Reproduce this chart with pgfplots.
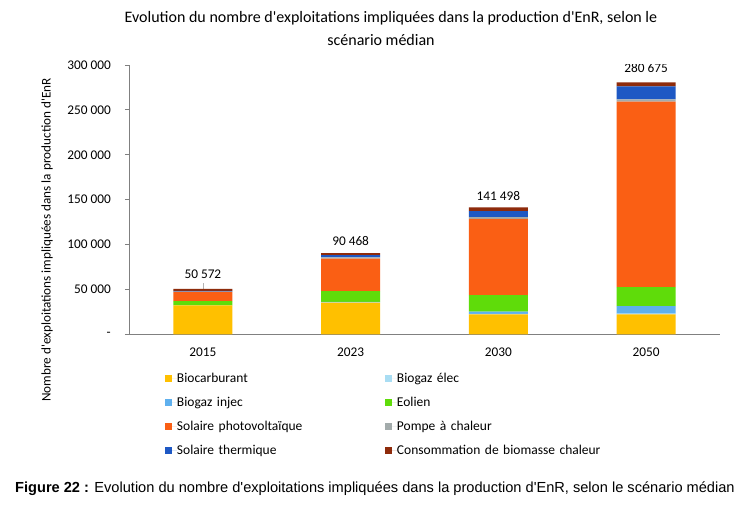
\documentclass[border=0pt]{standalone}
\usepackage{fontspec}
\setmainfont{Carlito}[Ligatures=TeXOff]
\newfontfamily\arialfont{Liberation Sans}[Ligatures=TeXOff]
\usepackage{pgfplots}
\pgfplotsset{compat=1.18}
\definecolor{cBioc}{HTML}{FFC000}
\definecolor{cElec}{HTML}{A9DDF3}
\definecolor{cInjec}{HTML}{5FB0EE}
\definecolor{cEol}{HTML}{5FDC0A}
\definecolor{cPV}{HTML}{FA5F14}
\definecolor{cPAC}{HTML}{A3ABAB}
\definecolor{cTherm}{HTML}{1E58C4}
\definecolor{cBiom}{HTML}{8E2B0B}
\definecolor{cAxis}{HTML}{808080}
\pgfplotsset{mylegend/.style={legend image code/.code={\fill[##1,draw=none] (0pt,-3.5pt) rectangle (7pt,3.5pt); \path (0pt,0pt) -- (12pt,0pt);}}}
\begin{document}
\begin{tikzpicture}[x=1pt,y=1pt]
\useasboundingbox (0,0) rectangle (747,530);
\fill[white] (0,0) rectangle (747,530);
\node[font=\fontsize{16}{18}\selectfont] at (391,512) {Evolution du nombre d'exploitations impliquées dans la production d'EnR, selon le};
\node[font=\fontsize{16}{18}\selectfont] at (381,490) {scénario médian};
\node[rotate=90, font=\fontsize{13.2}{15}\selectfont] at (47,290) {Nombre d'exploitations impliquées dans la production d'EnR};
\node[anchor=west, font=\arialfont\fontsize{14.6}{17}\selectfont, inner sep=0pt] at (15,41) {\textbf{Figure 22 :} Evolution du nombre d'exploitations impliquées dans la production d'EnR, selon le scénario médian};
\begin{axis}[
  at={(129pt,195.7pt)}, anchor=south west,
  scale only axis, width=591pt, height=269.3pt,
  ybar stacked, bar width=59pt,
  xmin=-0.5, xmax=3.5, ymin=0, ymax=300000,
  xtick={0,1,2,3}, xticklabels={2015,2023,2030,2050},
  ytick={0,50000,100000,150000,200000,250000,300000},
  yticklabels={-,50 000,100 000,150 000,200 000,250 000,300 000},
  axis x line*=bottom, axis y line*=left,
  axis line style={draw=cAxis, line width=0.9pt},
  tick align=outside, major tick length=4pt,
  ytick style={draw=cAxis, line width=0.9pt},
  xtick style={draw=none},
  ticklabel style={font=\fontsize{13.3}{15}\selectfont},
  yticklabel style={inner sep=0pt, anchor=east, xshift=-14pt},
  xticklabel style={inner sep=0pt, anchor=north, yshift=-9pt},
  scaled y ticks=false,
  legend columns=2,
  legend style={at={(0.0609,-0.1437)}, anchor=north west, draw=none, fill=none,
    inner sep=0pt, outer sep=0pt, row sep=13pt, column sep=0pt,
    nodes={inner sep=0pt, text height=9pt, text depth=2pt, text width=208pt, align=left, font=\fontsize{13.5}{16}\selectfont}},
]
\addplot[fill=cBioc, draw=none, mylegend] coordinates {(0,32200) (1,35200) (2,22200) (3,22200)};
\addlegendentry{Biocarburant}
\addplot[fill=cElec, draw=none, mylegend] coordinates {(0,0) (1,300) (2,600) (3,800)};
\addlegendentry{Biogaz élec}
\addplot[fill=cInjec, draw=none, mylegend] coordinates {(0,0) (1,500) (2,2400) (3,8400)};
\addlegendentry{Biogaz injec}
\addplot[fill=cEol, draw=none, mylegend] coordinates {(0,4800) (1,12100) (2,18500) (3,21100)};
\addlegendentry{Eolien}
\addplot[fill=cPV, draw=none, mylegend] coordinates {(0,10400) (1,36300) (2,84800) (3,206700)};
\addlegendentry{Solaire photovoltaïque}
\addplot[fill=cPAC, draw=none, mylegend] coordinates {(0,200) (1,1300) (2,1900) (3,2600)};
\addlegendentry{Pompe à chaleur}
\addplot[fill=cTherm, draw=none, mylegend] coordinates {(0,800) (1,2400) (2,6700) (3,14300)};
\addlegendentry{Solaire thermique}
\addplot[fill=cBiom, draw=none, mylegend] coordinates {(0,2172) (1,2368) (2,4398) (3,4575)};
\addlegendentry{Consommation de biomasse chaleur}
\draw[cAxis!60] (axis cs:0,50572) -- ([yshift=6pt]axis cs:0,50572);
\node[font=\fontsize{13.3}{15}\selectfont] at (axis cs:0,50572) [yshift=14.5pt] {50 572};
\node[font=\fontsize{13.3}{15}\selectfont] at (axis cs:1,90468) [yshift=12.5pt] {90 468};
\node[font=\fontsize{13.3}{15}\selectfont] at (axis cs:2,141498) [yshift=11pt] {141 498};
\node[font=\fontsize{13.3}{15}\selectfont] at (axis cs:3,280675) [yshift=14.5pt] {280 675};
\end{axis}
\end{tikzpicture}
\end{document}
